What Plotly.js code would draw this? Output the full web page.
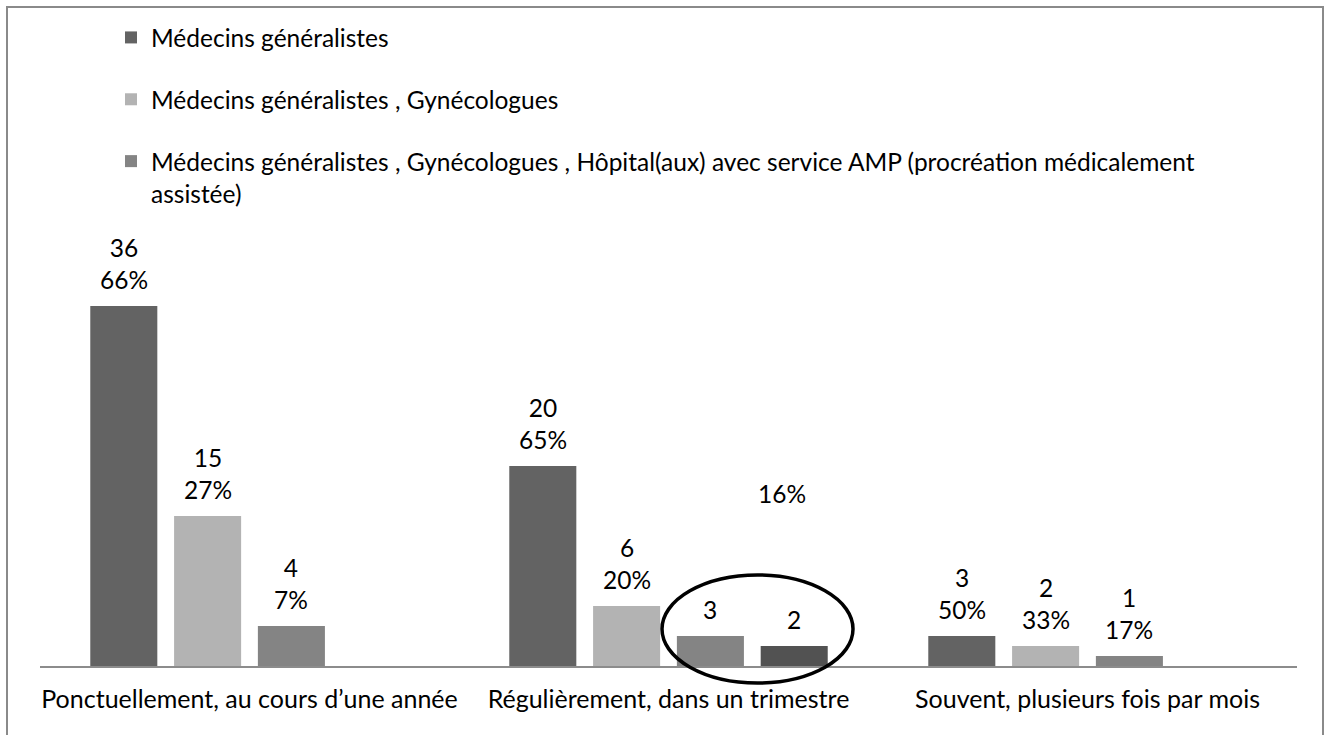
<!DOCTYPE html>
<html><head><meta charset="utf-8">
<script src="https://cdn.plot.ly/plotly-3.0.1.min.js"></script>
<style>html,body{margin:0;padding:0;background:#fff}#chart{width:1330px;height:735px}</style>
</head><body><div id="chart"></div>
<script>
// ---- data ----
const categories = ["Ponctuellement, au cours d’une année", "Régulièrement, dans un trimestre", "Souvent, plusieurs fois par mois"];
const seriesNames = [
  "Médecins généralistes",
  "Médecins généralistes , Gynécologues",
  "Médecins généralistes , Gynécologues , Hôpital(aux) avec service AMP (procréation médicalement<br>assistée)",
  "Autre"
];
const countsGeneralistes = [36, 20, 3];
const countsGyneco = [15, 6, 2];
const countsHopital = [4, 3, 1];
const countsExtra = [null, 2, null];
const pctGeneralistes = ["66%", "65%", "50%"];
const pctGyneco = ["27%", "20%", "33%"];
const pctHopital = ["7%", "", "17%"];
const pctExtra = ["", "", ""];
const circledLabel = "16%";   // share of the circled bars (3 + 2) in the 2nd category
const circledLabelLevel = 17.3;

// ---- style ----
const colors = ["#636363", "#b3b3b3", "#848484", "#525252"];
const FONT = "Lato, 'Open Sans', sans-serif";
const LABEL_SIZE = 24.5, TICK_SIZE = 25, LEGEND_SIZE = 24.5;
const W = 1330, H = 735;
const M = {l: 40, r: 33, t: 220, b: 69, autoexpand: false};
const BARGAP = 0.2, GROUPGAP = 0.2;

const allCounts = [countsGeneralistes, countsGyneco, countsHopital, countsExtra];
const allPct = [pctGeneralistes, pctGyneco, pctHopital, pctExtra];
const nSeries = allCounts.length;
const slot = (1 - BARGAP) / nSeries;

const traces = allCounts.map((vals, i) => ({
  type: 'bar',
  x: categories,
  y: vals,
  name: seriesNames[i],
  legendgroup: 'g' + i,
  showlegend: i < 3,
  marker: {color: colors[i], line: {width: 0}},
  hoverinfo: 'skip'
}));

// data labels (value + share) placed on top of each bar
const annotations = [];
allCounts.forEach((vals, i) => {
  vals.forEach((v, j) => {
    if (v === null) return;
    const p = allPct[i][j];
    annotations.push({
      x: j + (i - (nSeries - 1) / 2) * slot, xref: 'x',
      y: v, yref: 'y',
      yanchor: 'bottom', xanchor: 'center', yshift: 10,
      text: p ? v + '<br>' + p : String(v),
      showarrow: false,
      font: {family: FONT, size: LABEL_SIZE, color: '#000'}
    });
  });
});
annotations.push({
  x: 1 + 0.271, xref: 'x', y: circledLabelLevel, yref: 'y',
  text: circledLabel, showarrow: false, xanchor: 'center', yanchor: 'middle',
  font: {family: FONT, size: LABEL_SIZE, color: '#000'}
});

// pixel -> paper helpers for decorations
const pw = W - M.l - M.r, ph = H - M.t - M.b;
const px = v => (v - M.l) / pw;
const py = v => (H - M.b - v) / ph;

const shapes = [
  {type: 'rect', xref: 'paper', yref: 'paper', x0: px(7), x1: px(1323), y0: py(760), y1: py(7),
   line: {color: '#8a8a8a', width: 2}, fillcolor: 'rgba(0,0,0,0)', layer: 'below'},
  {type: 'circle', xref: 'paper', yref: 'paper', x0: px(662), x1: px(853), y0: py(683), y1: py(575),
   line: {color: '#000', width: 3.5}, fillcolor: 'rgba(0,0,0,0)', layer: 'above'}
];

const layout = {
  width: W, height: H,
  margin: M,
  paper_bgcolor: '#fff', plot_bgcolor: 'rgba(0,0,0,0)',
  font: {family: FONT, size: LABEL_SIZE, color: '#000'},
  barmode: 'group', bargap: BARGAP, bargroupgap: GROUPGAP,
  xaxis: {type: 'category', showline: true, linecolor: '#8c8c8c', linewidth: 1.5,
          ticks: '', showgrid: false, zeroline: false, tickfont: {family: FONT, size: TICK_SIZE, color: '#000'},
          ticklabelstandoff: 10, tickangle: 0, automargin: false, fixedrange: true},
  yaxis: {range: [0, ph / 10], visible: false, showgrid: false, zeroline: false, fixedrange: true},
  showlegend: true,
  legend: {xref: 'container', yref: 'container', x: 111 / W, y: 1 - 15 / H,
           xanchor: 'left', yanchor: 'top', traceorder: 'grouped', tracegroupgap: 27,
           valign: 'top', font: {family: FONT, size: LEGEND_SIZE, color: '#000'}, bgcolor: 'rgba(0,0,0,0)'},
  shapes: shapes,
  annotations: annotations
};

Plotly.newPlot('chart', traces, layout, {displayModeBar: false, staticPlot: true});
</script></body></html>
